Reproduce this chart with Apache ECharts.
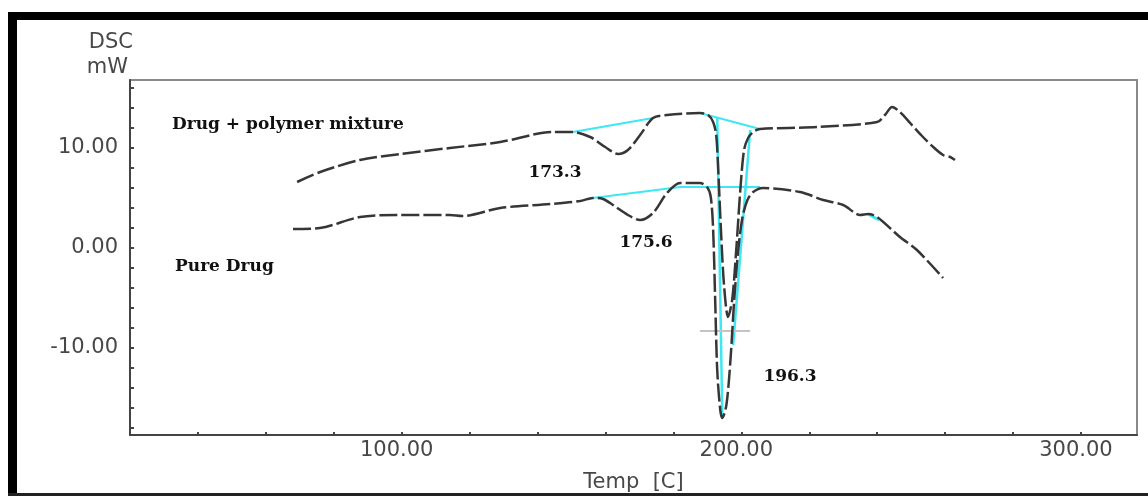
<!DOCTYPE html>
<html>
<head>
<meta charset="utf-8">
<script src="https://cdn.jsdelivr.net/npm/echarts@6/dist/echarts.min.js"></script>
<style>
  html, body { margin: 0; padding: 0; background: #fff; }
  #chart { width: 1148px; height: 496px; }
</style>
</head>
<body>
<div id="chart"></div>
<script>
// DSC traces: temperature (C) / heat flow (mW)
var mixTemp = [69.2, 76.0, 87.7, 99.5, 114.2, 129.0, 144.6, 150.4, 155.5, 159.9, 163.7, 166.6, 170.2, 174.0, 178.1, 187.8, 190.2, 191.7, 192.6, 193.2, 194.0, 194.9, 196.1, 197.3, 198.5, 199.7, 200.8, 202.0, 203.5, 205.5, 222.3, 240.0, 242.3, 244.4, 246.7, 249.7, 253.2, 256.5, 259.4, 261.5, 262.9];
var mixDsc = [6.6, 7.6, 8.8, 9.4, 10.0, 10.6, 11.6, 11.6, 11.1, 10.1, 9.4, 9.8, 11.3, 13.0, 13.3, 13.5, 13.3, 12.6, 11.3, 7.8, 1.8, -3.7, -6.9, -5.2, -0.2, 5.8, 9.8, 11.0, 11.6, 11.9, 12.1, 12.6, 13.3, 14.1, 13.6, 12.5, 11.2, 10.1, 9.3, 9.1, 8.8];

var drugTemp = [68.0, 75.9, 87.7, 98.6, 114.2, 117.8, 129.0, 143.7, 152.5, 156.3, 159.3, 162.2, 166.6, 170.2, 174.0, 178.1, 182.0, 187.8, 189.9, 191.0, 191.7, 192.3, 192.9, 193.8, 194.4, 195.6, 196.8, 197.9, 199.1, 200.3, 201.8, 203.5, 206.4, 217.3, 224.1, 230.0, 235.0, 237.3, 240.0, 246.7, 251.7, 259.4];
var drugDsc = [1.9, 2.0, 3.1, 3.3, 3.3, 3.2, 4.0, 4.4, 4.7, 5.0, 4.9, 4.3, 3.3, 2.8, 3.5, 5.5, 6.5, 6.5, 6.1, 5.1, 1.8, -5.2, -12.2, -16.2, -17.0, -15.7, -11.2, -5.2, -0.2, 3.0, 4.8, 5.6, 6.0, 5.6, 4.8, 4.3, 3.3, 3.4, 3.1, 1.1, -0.2, -3.0];

// analysis construction lines (cyan) drawn by the instrument software
var mixBase1 = [[150.4, 11.6], [174.0, 13.0]];
var mixBase2 = [[187.8, 13.5], [205.5, 11.9]];
var peakLine1 = [[192.9, 13.1], [194.4, -17.0]];
var peakLine2 = [[202.6, 11.8], [197.6, -9.7]];
var drugBase1 = [[156.3, 5.0], [182.0, 6.1], [205.5, 6.1]];
var drugTick = [[237.3, 3.4], [240.5, 2.8]];
var halfLine = [[187.8, -8.3], [202.6, -8.3]];

var xTicks = [20, 40, 60, 80, 100, 120, 140, 160, 180, 200, 220, 240, 260, 280, 300];
var xLabels = [100, 200, 300];
var yTicks = [-18, -16, -14, -12, -10, -8, -6, -4, -2, 0, 2, 4, 6, 8, 10, 12, 14, 16];
var yLabels = [-10, 0, 10];

function zip(a, b) {
  var out = [];
  for (var i = 0; i < a.length; i++) out.push([a[i], b[i]]);
  return out;
}

var chart = echarts.init(document.getElementById('chart'));

var axisFont = { color: '#484848', fontFamily: 'DejaVu Sans', fontSize: 21 };
var cyan = '#3ee8f2';
var trace = '#363636';

function cyanLine(data, w) {
  return {
    type: 'line', data: data, showSymbol: false, silent: true, z: 1,
    lineStyle: { color: cyan, width: w || 2 }
  };
}

chart.setOption({
  animation: false,
  grid: {
    left: 130, top: 80, right: 11, bottom: 61,
    show: true, borderColor: '#8a8a8a', borderWidth: 2,
    outerBoundsMode: 'none'
  },
  xAxis: {
    type: 'value', min: 20, max: 316.5,
    name: 'Temp  [C]', nameLocation: 'middle', nameGap: 37,
    nameTextStyle: axisFont,
    axisLine: { onZero: false, lineStyle: { color: '#444', width: 2 } },
    axisTick: { inside: true, length: 3, customValues: xTicks, lineStyle: { color: '#444', width: 2 } },
    axisLabel: {
      customValues: xLabels, margin: 5, padding: [0, 10, 0, 0],
      color: axisFont.color, fontFamily: axisFont.fontFamily, fontSize: axisFont.fontSize,
      formatter: function (v) { return v.toFixed(2); }
    },
    splitLine: { show: false }
  },
  yAxis: {
    type: 'value', min: -18.7, max: 16.8,
    axisLine: { show: true, onZero: false, lineStyle: { color: '#444', width: 2 } },
    axisTick: { show: true, inside: true, length: 4, customValues: yTicks, lineStyle: { color: '#444', width: 2 } },
    axisLabel: {
      customValues: yLabels, margin: 12,
      color: axisFont.color, fontFamily: axisFont.fontFamily, fontSize: axisFont.fontSize,
      formatter: function (v) { return v.toFixed(2); }
    },
    splitLine: { show: false }
  },
  series: [
    cyanLine(mixBase1),
    cyanLine(mixBase2),
    cyanLine(peakLine1, 2.5),
    cyanLine(peakLine2, 2.5),
    cyanLine(drugBase1),
    cyanLine(drugTick, 3),
    {
      type: 'line', data: halfLine, showSymbol: false, silent: true, z: 1,
      lineStyle: { color: '#c4c4c4', width: 2 }
    },
    {
      name: 'Drug + polymer mixture', type: 'line', data: zip(mixTemp, mixDsc),
      showSymbol: false, smooth: 0.3, z: 3,
      lineStyle: { color: trace, width: 2.5, type: [18, 4] }
    },
    {
      name: 'Pure Drug', type: 'line', data: zip(drugTemp, drugDsc),
      showSymbol: false, smooth: 0.3, z: 3,
      lineStyle: { color: trace, width: 2.5, type: [18, 4] }
    }
  ],
  graphic: [
    // scanned figure frame
    { type: 'rect', shape: { x: 8, y: 12, width: 1140, height: 8 }, style: { fill: '#000' } },
    { type: 'rect', shape: { x: 8, y: 12, width: 9, height: 484 }, style: { fill: '#000' } },
    { type: 'rect', shape: { x: 8, y: 493, width: 1140, height: 3 }, style: { fill: '#222' } },
    { type: 'text', style: { text: 'DSC', x: 133, y: 43, align: 'right', verticalAlign: 'middle', fill: '#484848', font: '21px "DejaVu Sans"' } },
    { type: 'text', style: { text: 'mW', x: 128, y: 68, align: 'right', verticalAlign: 'middle', fill: '#484848', font: '21px "DejaVu Sans"' } },
    { type: 'text', style: { text: 'Drug + polymer mixture', x: 172, y: 125, verticalAlign: 'middle', fill: '#111', font: 'bold 17px "DejaVu Serif"' } },
    { type: 'text', style: { text: 'Pure Drug', x: 175, y: 267, verticalAlign: 'middle', fill: '#111', font: 'bold 17px "DejaVu Serif"' } },
    { type: 'text', style: { text: '173.3', x: 555, y: 173, align: 'center', verticalAlign: 'middle', fill: '#111', font: 'bold 17px "DejaVu Serif"' } },
    { type: 'text', style: { text: '175.6', x: 646, y: 243, align: 'center', verticalAlign: 'middle', fill: '#111', font: 'bold 17px "DejaVu Serif"' } },
    { type: 'text', style: { text: '196.3', x: 790, y: 377, align: 'center', verticalAlign: 'middle', fill: '#111', font: 'bold 17px "DejaVu Serif"' } }
  ]
});
</script>
</body>
</html>
